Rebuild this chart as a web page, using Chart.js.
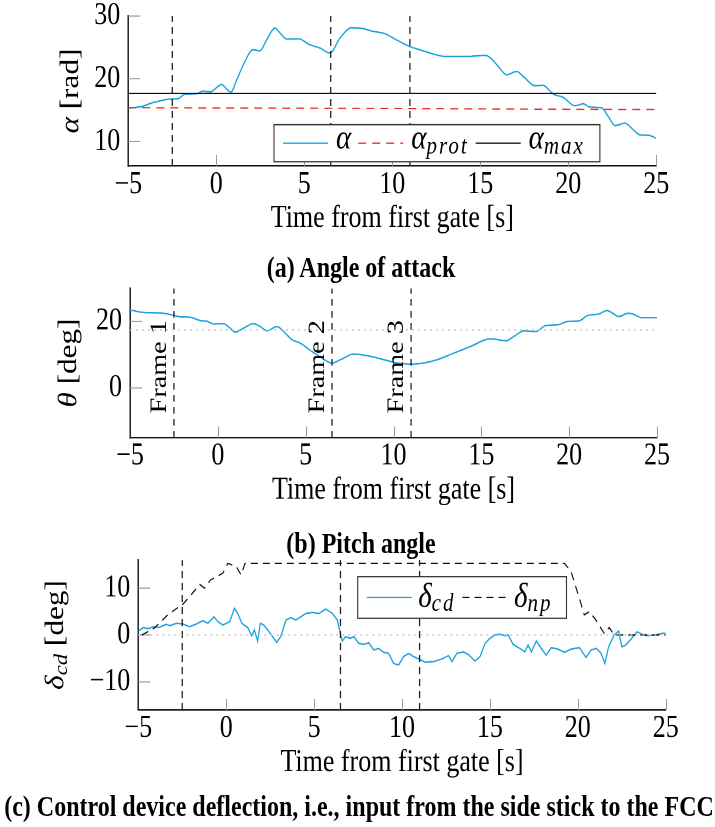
<!DOCTYPE html>
<html>
<head>
<meta charset="utf-8">
<script src="https://cdn.jsdelivr.net/npm/chart.js@4.4.0/dist/chart.umd.min.js"></script>
<style>
  html, body { margin: 0; padding: 0; background: #fff; }
  body { width: 715px; height: 827px; position: relative; overflow: hidden; }
  /* the figure is typeset at a 1 : 1.2 aspect (taller glyphs), so the whole sheet is stretched vertically */
  #sheet { position: absolute; left: 0; top: 0; width: 715px; height: 690px;
           transform: scaleY(1.2); transform-origin: 0 0; }
  .panel { position: absolute; left: 0; width: 715px; }
  .cap { position: absolute; left: 0; width: 722px; text-align: center; white-space: nowrap;
         font: bold 24px "Liberation Serif", "Times New Roman", serif; line-height: 28px; color: #000; }
</style>
</head>
<body>
<div id="sheet">
  <div class="panel" style="top:0;height:200px"><canvas id="chartAlpha"></canvas></div>
  <div class="cap" style="top:209.3px">(a) Angle of attack</div>
  <div class="panel" style="top:228px;height:196px"><canvas id="chartTheta"></canvas></div>
  <div class="cap" style="top:438.5px">(b) Pitch angle</div>
  <div class="panel" style="top:458px;height:190px"><canvas id="chartDelta"></canvas></div>
  <div class="cap" style="top:657.7px;width:718px">(c) Control device deflection, i.e., input from the side stick to the FCC</div>
</div>

<script>
// ---- data -------------------------------------------------------------
const timeTicks  = [-5, 0, 5, 10, 15, 20, 25];
const timeRange  = [-5, 25];

const frameTimes = [-2.5, 6.5, 11];
const frameNames = ['Frame 1', 'Frame 2', 'Frame 3'];

// (a) angle of attack
const alphaTicks = [10, 20, 30];
const alphaRange = [6.1, 30];
const timeAlpha = [-5, -4.24, -3.58, -2.48, -2.16, -1.78, -1.11, -0.77, -0.36, 0.31, 0.59, 0.84, 1.16, 1.63,
  2.07, 2.48, 2.86, 3.34, 3.62, 4.0, 4.66, 5.32, 5.89, 6.46, 7.03, 7.69, 8.17, 8.92, 9.58, 10.15, 10.97,
  11.57, 12.33, 13.0, 14.23, 15.27, 15.55, 16.02, 16.5, 17.07, 17.44, 18.11, 18.55, 19.15, 19.72, 20.38,
  20.85, 21.23, 21.9, 22.27, 22.65, 23.22, 23.69, 24.07, 24.55, 25];
const alphaValues = [15.33, 15.58, 16.22, 16.8, 16.85, 17.56, 17.6, 18.04, 17.89, 19.1, 18.36, 17.87, 19.84, 22.76,
  24.62, 24.46, 26.2, 28.08, 27.3, 26.33, 26.38, 25.42, 24.9, 24.1, 26.49, 28.13, 28.08, 27.55, 27.18, 26.33, 25.15,
  24.62, 23.94, 23.56, 23.56, 23.72, 23.4, 21.96, 20.64, 21.17, 20.37, 18.88, 18.97, 17.56, 17.02, 15.69,
  16.01, 15.48, 15.37, 13.99, 12.55, 12.93, 11.87, 11.07, 11.0, 10.54];
const alphaProt = [15.4, 15.1];   // value at t = -5 and t = 25
const alphaMax  = 17.65;

// (b) pitch angle
const thetaTicks = [0, 20];
const thetaRange = [-15, 30];
const thetaRef   = 17.5;
const timeTheta = [-5, -4.15, -3.29, -2.53, -2.15, -1.58, -1.01, -0.63, -0.25, 0.32, 0.7, 0.99, 1.46, 2.03, 2.41,
  2.8, 3.37, 3.84, 4.22, 4.69, 5.27, 5.84, 6.5, 6.98, 7.74, 8.5, 9.45, 10.21, 10.7, 11.16, 11.73, 12.49, 13.44,
  14.39, 15.53, 16.39, 16.86, 17.43, 18.1, 18.67, 19.34, 19.91, 20.57, 21.05, 21.71, 22.15, 22.48, 22.82,
  23.37, 23.71, 24.09, 25];
const thetaValues = [23.5, 22.7, 22.6, 21.9, 21.4, 21.3, 20.3, 20.1, 19.3, 19.4, 18.0, 16.8, 18.0, 19.4, 18.5,
  17.2, 18.5, 16.5, 14.5, 13.5, 11.3, 9.3, 7.5, 8.5, 10.2, 9.7, 8.5, 7.5, 7.25, 7.2, 7.5, 8.5, 10.5,
  12.5, 14.8, 14.2, 15.5, 17.2, 17.0, 18.8, 19.0, 20.0, 20.2, 21.8, 22.3, 23.3, 22.5, 21.5,
  22.5, 22.1, 21.2, 21.2];

// (c) control device deflection
const deltaTicks = [-10, 0, 10];
const deltaRange = [-16, 16];
const timeCd = [-5, -4.72, -4.43, -4.15, -3.87, -3.59, -3.4, -3.21, -2.83, -2.45, -2.08, -1.7, -1.32, -1.04,
  -0.7, -0.47, -0.19, 0.2, 0.47, 0.66, 0.89, 1.23, 1.45, 1.6, 1.79, 1.94, 2.13, 2.36, 2.64, 2.87, 3.1, 3.4,
  3.68, 3.96, 4.25, 4.53, 4.9, 5.28, 5.66, 6.04, 6.32, 6.51, 6.6, 6.79, 7.07, 7.26, 7.54, 7.83, 8.11, 8.39,
  8.67, 8.96, 9.24, 9.52, 9.81, 10.09, 10.38, 10.66, 10.94, 11.32, 11.8, 12.27, 12.65, 12.84, 13.12, 13.5,
  13.78, 14.15, 14.44, 14.72, 15.0, 15.28, 15.56, 15.85, 16.04, 16.32, 16.79, 16.98, 17.17, 17.36, 17.64,
  17.92, 18.2, 18.49, 18.86, 19.24, 19.62, 20.09, 20.47, 20.75, 21.07, 21.32, 21.54, 21.75, 22.07, 22.32,
  22.5, 22.73, 23.0, 23.37, 23.66, 23.94, 24.41, 24.83, 25];
const deltaCd = [0.85, 1.57, 1.35, 1.78, 1.57, 2.0, 2.28, 2.0, 2.5, 2.35, 1.78, 2.35, 3.06, 2.5,
  3.9, 2.85, 2.14, 2.85, 5.7, 4.6, 2.5, 1.57, -0.2, 1.1, -1.28, 2.5, 2.14, 1.1, -0.35, -1.57, -0.35, 3.2,
  3.7, 3.2, 3.9, 4.6, 4.8, 4.6, 5.55, 4.6, 3.2, 0, -1.28, -0.35, -0.7, -0.35, -1.78, -2.0, -1.65, -3.2,
  -2.85, -3.7, -3.9, -6.05, -6.4, -4.6, -3.9, -4.6, -5.1, -5.8, -5.7, -5.1, -4.4, -5.7, -3.9, -3.6,
  -4.2, -5.55, -4.6, -1.8, -0.7, 0, 0.2, -0.15, 0, -2.0, -3.06, -3.6, -2.14, -3.6, -1.28,
  -2.85, -4.3, -2.7, -3.0, -3.7, -3.0, -2.7, -4.8, -3.2, -2.85, -3.9, -6.05, -2.5, 0, 0.85,
  -2.5, -2.14, -1.0, 0.7, 0.15, -0.15, 0, 0.35, 0.35];
const timeNp = [-4.8, -4.62, -4.06, -3.3, -2.46, -2.08, -1.51, -1.23, -0.89, -0.19, 0.09, 0.57, 0.85, 1.07,
  19.24, 19.62, 20.09, 20.37, 20.66, 21.03, 21.5, 21.79, 22.07, 25];
const deltaNp = [0, 0.35, 1.57, 4.4, 6.6, 8.2, 10.8, 10.0, 11.75, 13.2, 15.3, 14.6, 12.8, 15.3,
  15.3, 13.5, 7.8, 4.3, 5.0, 3.2, 0.35, 1.6, 0, 0];

// ---- styling ----------------------------------------------------------
const SERIF = '"Liberation Serif", "Times New Roman", serif';
const BLUE = '#1ba1dc';
const RED = '#f02c2c';
const FONTS = {
  rm:   `26px ${SERIF}`,
  it:   `italic 26px ${SERIF}`,
  sub:  `italic 19px ${SERIF}`,
  lit:  `italic 29px ${SERIF}`,
  lsub: `italic 21px ${SERIF}`,
  frame:`23.5px ${SERIF}`
};
const VDASH = [5.8, 4.2];   // dash pattern for vertical lines (sheet is stretched 1.2x vertically)

const pts = (xs, ys) => xs.map((x, i) => ({ x, y: ys[i] }));
const fmt = v => (v < 0 ? '\u2212' + Math.abs(v) : String(v));

function curve(xs, ys, color, opts = {}) {
  return Object.assign({ data: pts(xs, ys), borderColor: color, borderWidth: 1.25, pointRadius: 0,
    fill: false, tension: 0 }, opts);
}
function hline(y0, y1, color, dash, width) {
  return { data: [{ x: timeRange[0], y: y0 }, { x: timeRange[1], y: y1 }], borderColor: color,
    borderDash: dash, borderWidth: width, pointRadius: 0, fill: false };
}
function frameLines(range) {
  return frameTimes.map(t => ({ data: [{ x: t, y: range[0] }, { x: t, y: range[1] }],
    borderColor: '#1a1a1a', borderDash: VDASH, borderWidth: 1.25, pointRadius: 0, fill: false }));
}

function scales(yRange, yTicks, g) {
  const tickFont = { family: SERIF, size: 26 };
  return {
    x: {
      type: 'linear', min: timeRange[0], max: timeRange[1],
      afterBuildTicks: s => { s.ticks = timeTicks.map(v => ({ value: v })); },
      afterFit: s => { s.height = g.xh; s.paddingLeft = 0; s.paddingRight = 0; },
      grid: { display: false, drawTicks: false },
      border: { display: true, color: '#111', width: 1.3 },
      ticks: { autoSkip: false, maxRotation: 0, padding: 0, color: '#000', font: tickFont, callback: v => fmt(v) }
    },
    y: {
      type: 'linear', min: yRange[0], max: yRange[1],
      afterBuildTicks: s => { s.ticks = yTicks.map(v => ({ value: v })); },
      afterFit: s => { s.width = g.left; s.paddingTop = 0; s.paddingBottom = 0; },
      grid: { display: false, drawTicks: false },
      border: { display: true, color: '#111', width: 1.4 },
      ticks: { autoSkip: false, padding: 8, color: '#000', font: tickFont, callback: v => fmt(v) }
    }
  };
}

// rich text: list of [text, fontKey, dy, letterSpacing]
function setSeg(ctx, s) {
  ctx.font = FONTS[s[1]];
  if ('letterSpacing' in ctx) ctx.letterSpacing = (s[3] || 0) + 'px';
}
function richWidth(ctx, segs) {
  return segs.reduce((w, s) => { setSeg(ctx, s); return w + ctx.measureText(s[0]).width; }, 0);
}
function drawRich(ctx, segs, x, y) {
  segs.forEach(s => {
    setSeg(ctx, s);
    ctx.fillText(s[0], x, y + (s[2] || 0));
    x += ctx.measureText(s[0]).width;
  });
  if ('letterSpacing' in ctx) ctx.letterSpacing = '0px';
  return x;
}

// decorations drawn with the Chart.js scales
const deco = {
  id: 'deco',
  beforeDatasetsDraw(chart, args, o) {
    const { ctx, chartArea: a, scales: { x, y } } = chart;
    ctx.save();
    ctx.strokeStyle = '#9a9a9a';
    ctx.lineWidth = 1;
    timeTicks.forEach(v => {
      if (v === x.min) return;
      const px = Math.round(x.getPixelForValue(v)) + 0.5;
      ctx.beginPath(); ctx.moveTo(px, a.bottom); ctx.lineTo(px, a.bottom - 9.2); ctx.stroke();
    });
    o.yTicks.forEach(v => {
      const py = y.getPixelForValue(v);
      ctx.beginPath(); ctx.moveTo(a.left, py); ctx.lineTo(a.left + 12, py); ctx.stroke();
    });
    ctx.restore();
  },
  afterDraw(chart, args, o) {
    const { ctx, chartArea: a, scales: { x } } = chart;
    ctx.save();
    ctx.fillStyle = '#000';

    // x axis title
    ctx.font = FONTS.rm;
    ctx.textAlign = 'center';
    ctx.textBaseline = 'middle';
    ctx.fillText('Time from first gate [s]', (a.left + a.right) / 2, a.bottom + 44);
    ctx.textAlign = 'left';
    ctx.textBaseline = 'alphabetic';

    // y axis title (rotated)
    const w = richWidth(ctx, o.yTitle);
    ctx.save();
    ctx.translate(o.yTitleX, (a.top + a.bottom) / 2);
    ctx.rotate(-Math.PI / 2);
    drawRich(ctx, o.yTitle, -w / 2, 8);
    ctx.restore();

    // frame labels next to the dashed markers
    if (o.frames) {
      ctx.font = FONTS.frame;
      frameTimes.forEach((t, i) => {
        ctx.save();
        ctx.translate(x.getPixelForValue(t) - 8, a.bottom - 20.3);
        ctx.rotate(-Math.PI / 2);
        ctx.fillText(frameNames[i], 0, 0);
        ctx.restore();
      });
    }

    // legend box
    if (o.legend) {
      const L = o.legend;
      const bx = a.left + L.dx, by = a.top + L.dy;
      let wTot = L.padL;
      L.items.forEach((it, i) => {
        wTot += it.line ? L.lineLen : richWidth(ctx, it.text);
        if (i < L.items.length - 1) wTot += it.line ? L.gapAfterLine : L.gapAfterText;
      });
      wTot += L.padR;
      ctx.fillStyle = '#fff';
      ctx.fillRect(bx, by, wTot, L.h);
      ctx.strokeStyle = '#333';
      ctx.lineWidth = 1.1;
      ctx.strokeRect(bx, by, wTot, L.h);
      let cx = bx + L.padL;
      const midY = by + L.h / 2;
      L.items.forEach(it => {
        if (it.line) {
          ctx.save();
          ctx.strokeStyle = it.line.color;
          ctx.lineWidth = it.line.width;
          ctx.setLineDash(it.line.dash);
          ctx.beginPath(); ctx.moveTo(cx, midY); ctx.lineTo(cx + L.lineLen, midY); ctx.stroke();
          ctx.restore();
          cx += L.lineLen + L.gapAfterLine;
        } else {
          ctx.fillStyle = '#000';
          cx = drawRich(ctx, it.text, cx, by + L.base) + L.gapAfterText;
        }
      });
    }
    ctx.restore();
  }
};

function baseOptions(g, yRange, yTicks, decoOpts) {
  return {
    responsive: true, maintainAspectRatio: false, animation: false, events: [], devicePixelRatio: 2,
    layout: { padding: { top: g.top, right: g.right, bottom: 0, left: 0 } },
    scales: scales(yRange, yTicks, g),
    plugins: { legend: { display: false }, tooltip: { enabled: false }, deco: decoOpts }
  };
}

// (a) angle of attack
new Chart(document.getElementById('chartAlpha'), {
  type: 'line',
  data: { datasets: [
    ...frameLines(alphaRange),
    hline(alphaProt[0], alphaProt[1], RED, [8, 6], 1.1),
    hline(alphaMax, alphaMax, '#111', [], 1.1),
    curve(timeAlpha, alphaValues, BLUE, { cubicInterpolationMode: 'monotone' })
  ] },
  options: baseOptions({ left: 128.3, right: 58.7, top: 13.33, xh: 61.67 }, alphaRange, alphaTicks, {
    yTicks: alphaTicks,
    yTitle: [['\u03b1', 'it'], [' [rad]', 'rm']],
    yTitleX: 70,
    legend: {
      dx: 145.7, dy: 90.6, h: 30.8, base: 19.8, padL: 9, padR: 15, lineLen: 45, gapAfterLine: 8, gapAfterText: 7,
      items: [
        { line: { color: BLUE, width: 1.2, dash: [] } },
        { text: [['\u03b1', 'lit']] },
        { line: { color: RED, width: 1.2, dash: [8, 6] } },
        { text: [['\u03b1', 'lit'], ['prot', 'lsub', 4.2, 2]] },
        { line: { color: '#111', width: 1.2, dash: [] } },
        { text: [['\u03b1', 'lit'], ['max', 'lsub', 4.2, 2]] }
      ]
    }
  }),
  plugins: [deco]
});

// (b) pitch angle
new Chart(document.getElementById('chartTheta'), {
  type: 'line',
  data: { datasets: [
    hline(thetaRef, thetaRef, '#c4c4c4', [2, 4], 1.1),
    ...frameLines(thetaRange),
    curve(timeTheta, thetaValues, BLUE, { cubicInterpolationMode: 'monotone' })
  ] },
  options: baseOptions({ left: 130, right: 58, top: 12.25, xh: 59.25 }, thetaRange, thetaTicks, {
    yTicks: thetaTicks,
    yTitle: [['\u03b8', 'it'], [' [deg]', 'rm']],
    yTitleX: 68,
    frames: true
  }),
  plugins: [deco]
});

// (c) control device deflection
new Chart(document.getElementById('chartDelta'), {
  type: 'line',
  data: { datasets: [
    hline(0, 0, '#c4c4c4', [2, 4], 1.1),
    ...frameLines(deltaRange),
    curve(timeNp, deltaNp, '#111', { borderDash: [7, 5], borderWidth: 1.1 }),
    curve(timeCd, deltaCd, BLUE)
  ] },
  options: baseOptions({ left: 138.3, right: 49.3, top: 8.67, xh: 56.33 }, deltaRange, deltaTicks, {
    yTicks: deltaTicks,
    yTitle: [['\u03b4', 'it'], ['cd', 'sub', 4], [' [deg]', 'rm']],
    yTitleX: 55,
    legend: {
      dx: 219.4, dy: 13.9, h: 34.7, base: 25, padL: 9, padR: 14, lineLen: 45, gapAfterLine: 6.5, gapAfterText: 7,
      items: [
        { line: { color: BLUE, width: 1.2, dash: [] } },
        { text: [['\u03b4', 'lit'], ['cd', 'lsub', 3.3, 2]] },
        { line: { color: '#111', width: 1.1, dash: [7, 5] } },
        { text: [['\u03b4', 'lit'], ['np', 'lsub', 3.3, 2]] }
      ]
    }
  }),
  plugins: [deco]
});
</script>
</body>
</html>
